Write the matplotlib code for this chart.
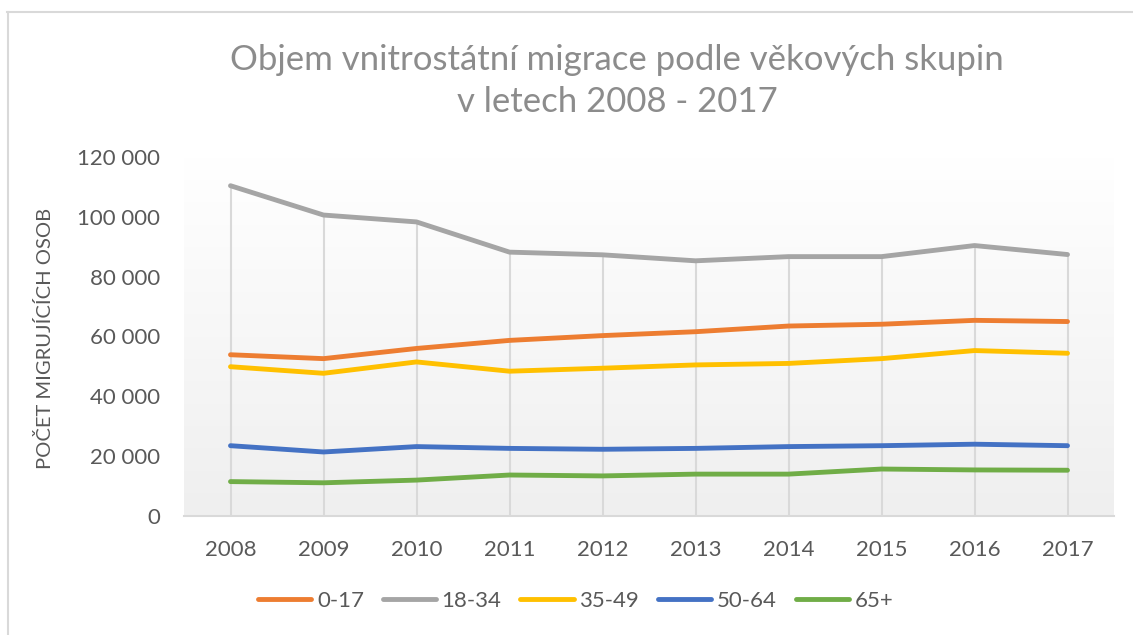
import matplotlib
matplotlib.use('Agg')
import matplotlib.pyplot as plt
import numpy as np
from matplotlib.ticker import FuncFormatter, MultipleLocator
from matplotlib.lines import Line2D
from matplotlib.colors import LinearSegmentedColormap

plt.rcParams['font.family'] = ['Lato', 'DejaVu Sans']

years = ['2008', '2009', '2010', '2011', '2012', '2013', '2014', '2015', '2016', '2017']
groups = ['0-17', '18-34', '35-49', '50-64', '65+']
v_0_17 = [53900, 52600, 56000, 58700, 60300, 61600, 63500, 64100, 65400, 65000]
v_18_34 = [110400, 100600, 98300, 88200, 87300, 85300, 86700, 86700, 90400, 87400]
v_35_49 = [49900, 47700, 51500, 48400, 49400, 50500, 51000, 52600, 55300, 54400]
v_50_64 = [23500, 21400, 23200, 22600, 22300, 22600, 23200, 23500, 24000, 23500]
v_65 = [11500, 11100, 12000, 13700, 13400, 14000, 14000, 15700, 15400, 15300]
series = [v_0_17, v_18_34, v_35_49, v_50_64, v_65]
colors = ['#ED7D31', '#A5A5A5', '#FFC000', '#4472C4', '#70AD47']

W, H = 1133, 635
fig = plt.figure(figsize=(W / 100, H / 100), dpi=100)
ax = fig.add_axes([184 / W, 1 - 516 / H, (1114 - 184) / W, (516 - 157) / H])
ax.set_facecolor('none')

x = np.arange(len(years))
cmap = LinearSegmentedColormap.from_list('g', ['#efefef', '#ffffff'])
ax.imshow(np.linspace(0, 1, 256).reshape(-1, 1), cmap=cmap, origin='lower',
          extent=(-0.5, len(years) - 0.5, 0, 120000), aspect='auto', zorder=0)

tops = np.max(np.array(series), axis=0)
ax.vlines(x, 0, tops, color='#d9d9d9', lw=1.5, zorder=1)

for vals, c, g in zip(series, colors, groups):
    ax.plot(x, vals, color=c, lw=3.5, solid_capstyle='round',
            solid_joinstyle='round', label=g, zorder=3)

ax.set_xlim(-0.5, len(years) - 0.5)
ax.set_ylim(0, 120000)
ax.set_xticks(x)
ax.set_xticklabels(years)
ax.yaxis.set_major_locator(MultipleLocator(20000))
ax.yaxis.set_major_formatter(FuncFormatter(lambda v, p: f"{v:,.0f}".replace(",", " ")))
ax.tick_params(axis='both', length=0, labelsize=16, labelcolor='#595959', pad=17)
for s in ['top', 'left', 'right']:
    ax.spines[s].set_visible(False)
ax.spines['bottom'].set_color('#d9d9d9')
ax.spines['bottom'].set_linewidth(1.5)

fig.text(45 / W, 1 - 338 / H, 'POČET MIGRUJÍCÍCH OSOB', rotation=90,
         ha='center', va='center', fontsize=14.5, color='#595959')

fig.text(617 / W, 1 - 60 / H, 'Objem vnitrostátní migrace podle věkových skupin',
         ha='center', va='center', fontsize=25, color='#8c8c8c')
fig.text(617 / W, 1 - 102 / H, 'v letech 2008 - 2017',
         ha='center', va='center', fontsize=25, color='#8c8c8c')

handles, labels = ax.get_legend_handles_labels()
fig.legend(handles, labels, loc='center left', bbox_to_anchor=(258 / W, 1 - 601 / H),
           ncol=5, frameon=False, handlelength=2.4, handletextpad=0.25,
           columnspacing=0.85, fontsize=16, labelcolor='#595959',
           borderpad=0, borderaxespad=0)

fig.add_artist(Line2D([7 / W, 1], [1 - 12 / H, 1 - 12 / H], color='#d9d9d9', lw=1.5,
                      transform=fig.transFigure))
fig.add_artist(Line2D([8 / W, 8 / W], [0, 1 - 12 / H], color='#d9d9d9', lw=1.5,
                      transform=fig.transFigure))

fig.savefig('out.png', dpi=100)
